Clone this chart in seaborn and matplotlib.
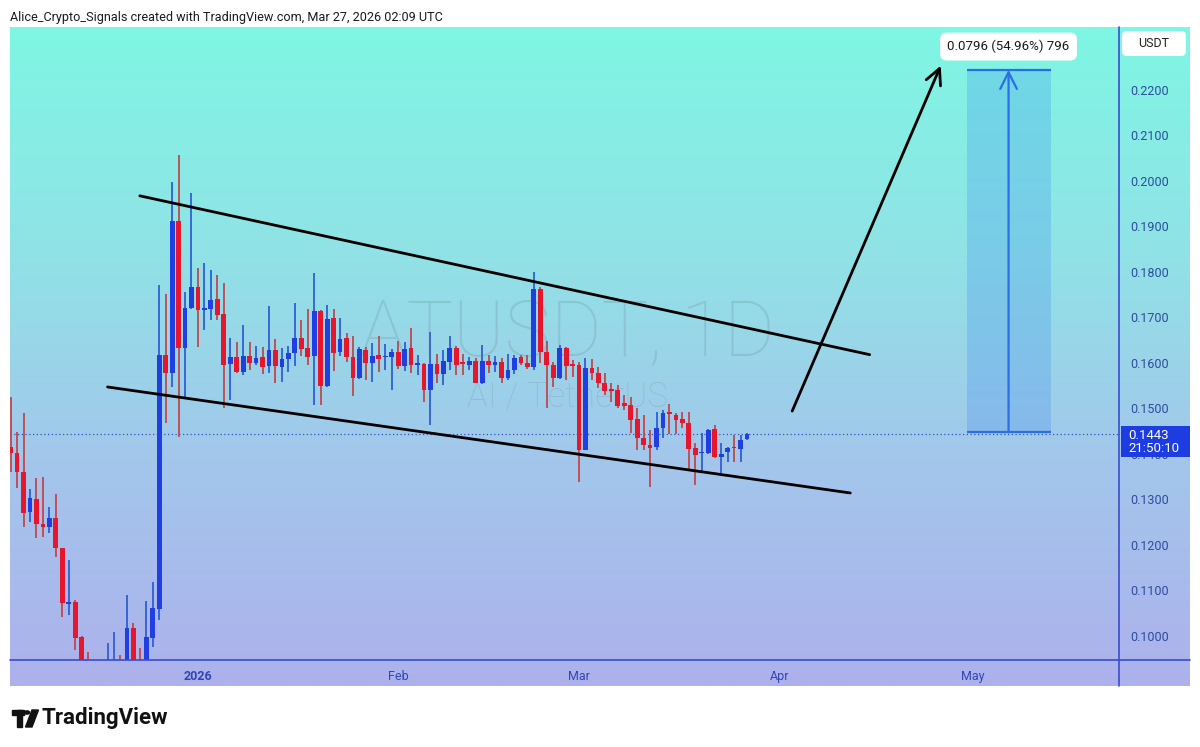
# %%
import numpy as np
import pandas as pd
import seaborn as sns
import matplotlib.pyplot as plt
import matplotlib.dates as mdates
import matplotlib.transforms as mtransforms
from matplotlib.colors import LinearSegmentedColormap
from matplotlib.patches import Rectangle, Circle, Polygon, FancyBboxPatch
from matplotlib.lines import Line2D

# %%
# candles diarios ATUSDT (lidos do print)
datas = pd.date_range('2025-12-03', '2026-03-27', freq='D')

abertura = [0.1415, 0.1402, 0.1360, 0.1273, 0.1301, 0.1246, 0.1240, 0.1259, 0.1193, 0.1070,
            0.1075, 0.0998, 0.0930, 0.0890, 0.0900, 0.0880, 0.0910, 0.0945, 0.0920, 0.1017,
            0.0940, 0.0920, 0.0996, 0.1059, 0.1618, 0.1578, 0.1912, 0.1633, 0.1721, 0.1767,
            0.1717, 0.1719, 0.1740, 0.1708, 0.1598, 0.1613, 0.1580, 0.1615, 0.1600, 0.1613,
            0.1593, 0.1629, 0.1591, 0.1609, 0.1622, 0.1655, 0.1633, 0.1615, 0.1714, 0.1549,
            0.1699, 0.1624, 0.1655, 0.1613, 0.1567, 0.1629, 0.1600, 0.1618, 0.1613, 0.1613,
            0.1624, 0.1593, 0.1633, 0.1596, 0.1598, 0.1541, 0.1598, 0.1576, 0.1602, 0.1633,
            0.1600, 0.1596, 0.1604, 0.1556, 0.1604, 0.1596, 0.1602, 0.1567, 0.1585, 0.1613,
            0.1600, 0.1591, 0.1763, 0.1624, 0.1596, 0.1567, 0.1633, 0.1596, 0.1596, 0.1409,
            0.1589, 0.1578, 0.1556, 0.1543, 0.1541, 0.1512, 0.1508, 0.1477, 0.1435, 0.1420,
            0.1415, 0.1457, 0.1490, 0.1486, 0.1477, 0.1468, 0.1413, 0.1402, 0.1402, 0.1455,
            0.1393, 0.1404, 0.1415, 0.1411, 0.1433]
maxima = [0.1525, 0.1448, 0.1490, 0.1323, 0.1347, 0.1349, 0.1284, 0.1312, 0.1193, 0.1167,
          0.1079, 0.1000, 0.0965, 0.0920, 0.0930, 0.0985, 0.1009, 0.0958, 0.1090, 0.1029,
          0.0974, 0.1077, 0.1119, 0.1771, 0.1752, 0.1998, 0.2057, 0.1756, 0.1974, 0.1809,
          0.1820, 0.1804, 0.1793, 0.1776, 0.1655, 0.1646, 0.1684, 0.1646, 0.1637, 0.1635,
          0.1725, 0.1653, 0.1633, 0.1637, 0.1732, 0.1694, 0.1719, 0.1798, 0.1716, 0.1727,
          0.1719, 0.1699, 0.1666, 0.1659, 0.1635, 0.1635, 0.1644, 0.1659, 0.1642, 0.1631,
          0.1648, 0.1646, 0.1677, 0.1618, 0.1600, 0.1668, 0.1620, 0.1629, 0.1659, 0.1637,
          0.1620, 0.1613, 0.1611, 0.1640, 0.1618, 0.1615, 0.1611, 0.1620, 0.1618, 0.1618,
          0.1618, 0.1800, 0.1767, 0.1648, 0.1602, 0.1640, 0.1635, 0.1607, 0.1602, 0.1611,
          0.1609, 0.1591, 0.1578, 0.1556, 0.1552, 0.1530, 0.1525, 0.1501, 0.1486, 0.1453,
          0.1492, 0.1497, 0.1510, 0.1490, 0.1492, 0.1492, 0.1424, 0.1446, 0.1455, 0.1464,
          0.1424, 0.1415, 0.1442, 0.1442, 0.1446]
minima = [0.1360, 0.1325, 0.1240, 0.1251, 0.1215, 0.1218, 0.1226, 0.1174, 0.1042, 0.1046,
          0.0969, 0.0880, 0.0860, 0.0850, 0.0860, 0.0860, 0.0870, 0.0880, 0.0900, 0.0910,
          0.0900, 0.0910, 0.0976, 0.1035, 0.1468, 0.1547, 0.1437, 0.1525, 0.1719, 0.1635,
          0.1673, 0.1694, 0.1694, 0.1501, 0.1519, 0.1578, 0.1574, 0.1585, 0.1596, 0.1576,
          0.1578, 0.1556, 0.1558, 0.1580, 0.1593, 0.1615, 0.1596, 0.1508, 0.1508, 0.1547,
          0.1582, 0.1615, 0.1602, 0.1527, 0.1565, 0.1563, 0.1558, 0.1580, 0.1585, 0.1541,
          0.1587, 0.1582, 0.1578, 0.1574, 0.1514, 0.1464, 0.1556, 0.1552, 0.1585, 0.1574,
          0.1574, 0.1585, 0.1556, 0.1554, 0.1578, 0.1580, 0.1556, 0.1563, 0.1576, 0.1596,
          0.1587, 0.1585, 0.1600, 0.1501, 0.1547, 0.1565, 0.1563, 0.1569, 0.1338, 0.1409,
          0.1563, 0.1545, 0.1530, 0.1514, 0.1501, 0.1497, 0.1446, 0.1409, 0.1409, 0.1327,
          0.1409, 0.1435, 0.1444, 0.1444, 0.1457, 0.1365, 0.1332, 0.1360, 0.1400, 0.1391,
          0.1352, 0.1382, 0.1382, 0.1382, 0.1431]
fechamento = [0.1402, 0.1360, 0.1270, 0.1303, 0.1246, 0.1240, 0.1259, 0.1193, 0.1073, 0.1075,
              0.0996, 0.0900, 0.0890, 0.0900, 0.0880, 0.0910, 0.0930, 0.0900, 0.1017, 0.0930,
              0.0920, 0.0998, 0.1062, 0.1618, 0.1578, 0.1912, 0.1633, 0.1721, 0.1767, 0.1716,
              0.1719, 0.1738, 0.1705, 0.1596, 0.1613, 0.1580, 0.1615, 0.1600, 0.1611, 0.1591,
              0.1629, 0.1593, 0.1609, 0.1622, 0.1655, 0.1631, 0.1613, 0.1714, 0.1549, 0.1697,
              0.1622, 0.1653, 0.1613, 0.1567, 0.1631, 0.1600, 0.1615, 0.1609, 0.1615, 0.1624,
              0.1593, 0.1631, 0.1596, 0.1598, 0.1541, 0.1598, 0.1576, 0.1604, 0.1633, 0.1596,
              0.1598, 0.1604, 0.1556, 0.1604, 0.1596, 0.1602, 0.1567, 0.1585, 0.1611, 0.1600,
              0.1591, 0.1763, 0.1624, 0.1596, 0.1567, 0.1633, 0.1593, 0.1593, 0.1409, 0.1589,
              0.1578, 0.1556, 0.1538, 0.1538, 0.1505, 0.1505, 0.1475, 0.1435, 0.1420, 0.1413,
              0.1457, 0.1490, 0.1488, 0.1475, 0.1468, 0.1411, 0.1398, 0.1404, 0.1453, 0.1393,
              0.1400, 0.1413, 0.1413, 0.1431, 0.1443]

# desenhos do grafico (linhas de tendencia, seta e regiao de alvo)
linha_sup_datas = ['2025-12-23', '2026-04-15']
linha_sup_precos = [0.1967, 0.1618]
linha_inf_datas = ['2025-12-18', '2026-04-12']
linha_inf_precos = [0.1547, 0.1314]
seta_datas = ['2026-04-03', '2026-04-26']
seta_precos = [0.1494, 0.2253]
alvo_datas = ['2026-04-30', '2026-05-13']
alvo_precos = [0.1448, 0.2244]
alvo_texto = '0.0796 (54.96%) 796'

precos_eixo = [0.10, 0.11, 0.12, 0.13, 0.14, 0.15, 0.16, 0.17, 0.18, 0.19, 0.20, 0.21, 0.22]
meses_datas = ['2026-01-01', '2026-02-01', '2026-03-01', '2026-04-01', '2026-05-01']
meses_nomes = ['2026', 'Feb', 'Mar', 'Apr', 'May']
ultimo_preco = 0.1443
contagem = '21:50:10'

# %%
sns.set_style('white')
plt.rcParams['font.family'] = ['Roboto', 'DejaVu Sans']

AZUL = '#1f3fe2'
VERMELHO = '#e8162c'
AZUL_PAVIO = '#2f5fd6'
VERMELHO_PAVIO = '#c2474c'
COR_EIXO = '#2d4c9f'

W, H = 1200, 747
fig = plt.figure(figsize=(12, 7.47), dpi=100)
fig.patch.set_facecolor('white')


def fx(px):
    return px / W


def fy(py):
    return 1 - py / H


# fundo em degrade (ciano -> lilas)
ax_bg = fig.add_axes([fx(10), fy(686), fx(1190) - fx(10), fy(27) - fy(686)], zorder=-1)
cmap_bg = LinearSegmentedColormap.from_list('bg', ['#7ff6e3', '#90e3e6', '#a3c6eb', '#adb1ec'])
ax_bg.imshow(np.linspace(0, 1, 256).reshape(-1, 1), aspect='auto', cmap=cmap_bg)
ax_bg.axis('off')

ax = fig.add_axes([fx(10), fy(660), fx(1119) - fx(10), fy(27) - fy(660)])
ax.set_facecolor('none')

base = mdates.date2num(pd.Timestamp('2026-01-01'))
ax.set_xlim(base - 29.1, base + 142.6)
ax.set_ylim(0.0947, 0.2338)

# %%
# marca d'agua
ax.text(0.503, 0.515, 'ATUSDT, 1D', transform=ax.transAxes, ha='center', va='center',
        fontsize=56, color='#66737f', alpha=0.2, fontweight='light')
ax.text(0.503, 0.415, 'AI / TetherUS', transform=ax.transAxes, ha='center', va='center',
        fontsize=25, color='#66737f', alpha=0.2, fontweight='light')

# candles
x = mdates.date2num(datas)
a = np.array(abertura)
f = np.array(fechamento)
sobe = f >= a
ax.vlines(x, minima, maxima, colors=np.where(sobe, AZUL_PAVIO, VERMELHO_PAVIO), lw=1.3, zorder=2)
altura = np.maximum(np.abs(f - a), 0.0004)
base_corpo = np.minimum(a, f) - (altura - np.abs(f - a)) / 2
ax.bar(x, altura, bottom=base_corpo, width=0.74, color=np.where(sobe, AZUL, VERMELHO),
       linewidth=0, zorder=3)

# preco atual
ax.axhline(ultimo_preco, color='#3552c8', lw=0.9, ls=(0, (1, 2)), zorder=1)

# linhas de tendencia
sns.lineplot(x=mdates.date2num(pd.to_datetime(linha_sup_datas)), y=linha_sup_precos,
             color='black', lw=2.0, ax=ax, zorder=4)
sns.lineplot(x=mdates.date2num(pd.to_datetime(linha_inf_datas)), y=linha_inf_precos,
             color='black', lw=2.0, ax=ax, zorder=4)

sx = mdates.date2num(pd.to_datetime(seta_datas))
ax.annotate('', xy=(sx[1], seta_precos[1]), xytext=(sx[0], seta_precos[0]),
            arrowprops=dict(arrowstyle='->', lw=2.0, color='black', mutation_scale=28,
                            shrinkA=0, shrinkB=0), zorder=4)

# regiao de alvo (price range)
ax_ = mdates.date2num(pd.to_datetime(alvo_datas))
ax.add_patch(Rectangle((ax_[0], alvo_precos[0]), ax_[1] - ax_[0], alvo_precos[1] - alvo_precos[0],
                       facecolor='#2d7cf0', alpha=0.22, edgecolor='none', zorder=2))
ax.hlines(alvo_precos, ax_[0], ax_[1], color='#2a6fe8', lw=1.6, zorder=3)
meio = (ax_[0] + ax_[1]) / 2
ax.annotate('', xy=(meio, alvo_precos[1]), xytext=(meio, alvo_precos[0]),
            arrowprops=dict(arrowstyle='->', lw=1.6, color='#2a6fe8', mutation_scale=30,
                            shrinkA=0, shrinkB=0), zorder=3)
ax.text(meio, alvo_precos[1] + 0.0051, alvo_texto, ha='center', va='center', fontsize=9.5,
        color='#1a1a1a', zorder=6,
        bbox=dict(boxstyle='round,pad=0.55,rounding_size=0.5', fc='white', ec='none'))

# %%
# eixos
ax.yaxis.tick_right()
ax.set_yticks(precos_eixo)
ax.set_yticklabels([f'{v:.4f}' for v in precos_eixo])
ax.tick_params(axis='y', length=0, pad=8, labelsize=9, labelcolor=COR_EIXO)

ax.set_xticks(mdates.date2num(pd.to_datetime(meses_datas)))
ax.set_xticklabels(meses_nomes)
ax.tick_params(axis='x', length=0, pad=7, labelsize=9, labelcolor='#3047b5')
ax.get_xticklabels()[0].set_fontweight('bold')

for s in ax.spines.values():
    s.set_visible(False)
ax.grid(False)

fig.add_artist(Line2D([fx(10), fx(1190)], [fy(660), fy(660)], color='#3a4ccf', lw=1.2))
fig.add_artist(Line2D([fx(1119), fx(1119)], [fy(27), fy(686)], color='#3a4ccf', lw=1.2))

# etiqueta do preco atual no eixo
trans = mtransforms.blended_transform_factory(ax.transAxes, ax.transData)
ax.add_patch(Rectangle((1.0018, ultimo_preco - 0.0050), 0.0622, 0.0069, transform=trans,
                       facecolor='#1d3de0', edgecolor='none', clip_on=False, zorder=9))
ax.text(1.0081, ultimo_preco - 0.0016, f'{ultimo_preco:.4f}\n{contagem}', transform=trans,
        ha='left', va='center', fontsize=9.5, color='white', linespacing=1.0, clip_on=False,
        zorder=10)

fig.add_artist(FancyBboxPatch((fx(1122), fy(56)), fx(1186) - fx(1122), fy(31) - fy(56),
                              boxstyle='round,pad=0,rounding_size=0.004', mutation_aspect=W / H,
                              transform=fig.transFigure, facecolor='white', edgecolor='none'))
fig.text(fx(1154), fy(43.5), 'USDT', ha='center', va='center', fontsize=9, color='#222222')

# cabecalho e rodape
fig.text(fx(10), fy(17), 'Alice_Crypto_Signals created with TradingView.com, Mar 27, 2026 02:09 UTC',
         ha='left', va='center', fontsize=9.1, color='#1a1a1a')
fig.text(fx(41), fy(718), 'TradingView', ha='left', va='center', fontsize=16,
         fontweight='bold', color='#111111')
fig.add_artist(Rectangle((fx(12), fy(715)), fx(24) - fx(12), fy(710) - fy(715),
                         transform=fig.transFigure, color='#111111'))
fig.add_artist(Rectangle((fx(17), fy(727)), fx(22) - fx(17), fy(710) - fy(727),
                         transform=fig.transFigure, color='#111111'))
fig.add_artist(Circle((fx(27), fy(712.5)), 2.6 / W, transform=fig.transFigure, color='#111111'))
fig.add_artist(Polygon([(fx(32), fy(710)), (fx(38.5), fy(710)), (fx(32), fy(727)),
                        (fx(25.5), fy(727))], transform=fig.transFigure, color='#111111'))

fig.savefig('out.png', dpi=100)
